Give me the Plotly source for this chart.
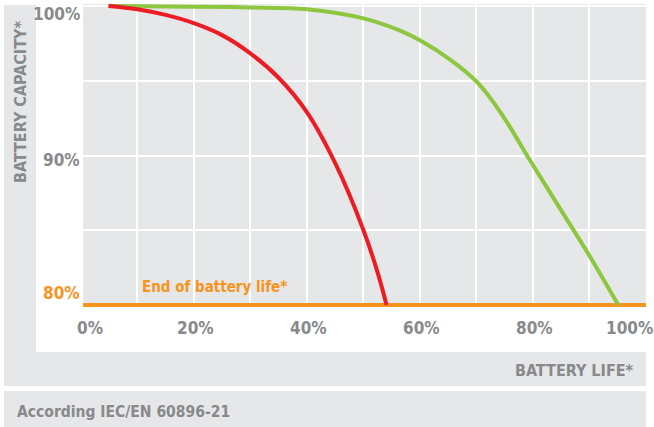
import plotly.graph_objects as go

# ---- data ----
red_life = [4.9, 10, 15, 20, 25, 30, 35, 40, 45, 50, 52.5, 54.1]
red_capacity = [100, 99.78, 99.40, 98.85, 98.05, 96.83, 95.2, 92.9, 89.5, 85.02, 82.2, 80]
green_life = [5, 20, 30, 40, 50, 56.5, 60, 65.4, 70, 74.2, 79.8, 84.8, 90.1, 95.1]
green_capacity = [100, 99.95, 99.9, 99.78, 99.17, 98.35, 97.7, 96.4, 94.95, 92.92, 89.48, 86.45, 83.23, 80]
end_of_life_level = 80
x_tick_values = [0, 20, 40, 60, 80, 100]
x_tick_labels = ["0%", "20%", "40%", "60%", "80%", "100%"]
y_tick_values = [100, 90, 80]
y_tick_labels = ["100%", "90%", "80%"]

# ---- style ----
W, H = 654, 427
L, R, T, B = 83, 8, 4, 120
PW, PH = W - L - R, H - T - B
X_RANGE = [0.4, 100]
GRAY_BG = "#e6e7e8"
TEXT = "#88898b"
ORANGE = "#f7941d"
RED = "#ed1c24"
GREEN = "#8dc63f"
FONT = "DejaVu Sans Condensed, Liberation Sans Narrow, sans-serif"


def px(x):
    return (x - L) / PW


def py(y):
    return (H - B - y) / PH


def f(size, color=TEXT):
    return dict(family=FONT, size=size, color=color, weight="bold")


fig = go.Figure()
fig.add_trace(go.Scatter(x=X_RANGE, y=[end_of_life_level, end_of_life_level], mode="lines",
                         line=dict(color=ORANGE, width=4), hoverinfo="skip"))
fig.add_trace(go.Scatter(x=green_life, y=green_capacity, mode="lines",
                         line=dict(color=GREEN, width=4, shape="spline", smoothing=1),
                         hoverinfo="skip"))
fig.add_trace(go.Scatter(x=red_life, y=red_capacity, mode="lines",
                         line=dict(color=RED, width=4, shape="spline", smoothing=1),
                         hoverinfo="skip"))

shapes = [
    dict(type="rect", xref="paper", yref="paper", x0=px(4), x1=px(36), y0=py(386), y1=py(5),
         fillcolor=GRAY_BG, line_width=0, layer="below"),
    dict(type="rect", xref="paper", yref="paper", x0=px(4), x1=px(646), y0=py(386), y1=py(352),
         fillcolor=GRAY_BG, line_width=0, layer="below"),
    dict(type="rect", xref="paper", yref="paper", x0=px(4), x1=px(646), y0=py(427), y1=py(391),
         fillcolor=GRAY_BG, line_width=0, layer="below"),
]

annotations = []
# y labels
y_shifts = {100: -8, 90: -4, 80: 12}
for v, t in zip(y_tick_values, y_tick_labels):
    col = ORANGE if v == end_of_life_level else TEXT
    annotations.append(dict(x=px(82), xref="paper", y=v, yref="y", text=t, showarrow=False,
                            xanchor="right", yanchor="middle", yshift=y_shifts[v], font=f(17, col)))
# x labels
for i, (v, t) in enumerate(zip(x_tick_values, x_tick_labels)):
    if i == 0:
        xv, anchor, shift = X_RANGE[0], "left", -8
    elif i == len(x_tick_values) - 1:
        xv, anchor, shift = v, "right", 9
    else:
        xv, anchor, shift = v, "center", 2
    annotations.append(dict(x=xv, xref="x", y=py(328), yref="paper", text=t, showarrow=False,
                            xanchor=anchor, yanchor="middle", xshift=shift, font=f(17)))

annotations += [
    dict(x=10.5, xref="x", y=py(287), yref="paper", text="End of battery life*", showarrow=False,
         xanchor="left", yanchor="middle", font=f(15, ORANGE)),
    dict(x=px(20), xref="paper", y=py(102), yref="paper", text="BATTERY CAPACITY*", showarrow=False,
         textangle=-90, xanchor="center", yanchor="middle", font=f(16)),
    dict(x=px(636), xref="paper", y=py(370), yref="paper", text="BATTERY LIFE*", showarrow=False,
         xanchor="right", yanchor="middle", font=f(16)),
    dict(x=px(15), xref="paper", y=py(412), yref="paper", text="According IEC/EN 60896-21",
         showarrow=False, xanchor="left", yanchor="middle", font=f(15.5)),
]

fig.update_layout(
    width=W, height=H,
    margin=dict(l=L, r=R, t=T, b=B, pad=0),
    paper_bgcolor="white",
    plot_bgcolor=GRAY_BG,
    showlegend=False,
    shapes=shapes,
    annotations=annotations,
    xaxis=dict(range=X_RANGE, tickvals=list(range(0, 101, 10)), showticklabels=False,
               showgrid=True, gridcolor="white", gridwidth=2, zeroline=False, showline=False,
               fixedrange=True),
    yaxis=dict(range=[79.87, 100.13], tickvals=list(range(80, 101, 5)), showticklabels=False,
               showgrid=True, gridcolor="white", gridwidth=2, zeroline=False, showline=False,
               fixedrange=True),
)

fig.write_html("out.html", config={"displayModeBar": False},
               post_script="document.body.style.margin='0';document.body.style.padding='0';")
